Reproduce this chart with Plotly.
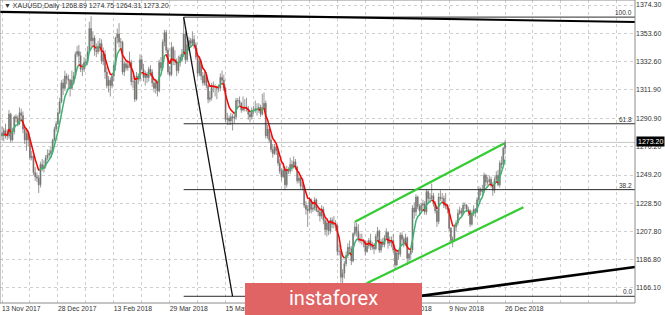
import plotly.graph_objects as go

# ---------------- data (XAUUSD daily, 13 Nov 2017 .. 26 Dec 2018) ----------------
opens = [
    1280,1278,1282,1278,1278,1294,1275,1281,1292,1291,
    1287,1295,1293,1283,1275,1280,1275,1262,1263,1251,
    1248,1247,1242,1257,1254,1256,1262,1264,1265,1267,
    1275,1283,1287,1295,1303,1317,1313,1322,1320,1319,
    1313,1319,1322,1338,1340,1337,1327,1327,1332,1332,
    1340,1357,1348,1350,1341,1340,1344,1346,1333,1338,
    1325,1315,1319,1315,1322,1330,1350,1353,1347,1347,
    1325,1331,1328,1330,1332,1318,1318,1305,1322,1320,
    1334,1327,1321,1323,1321,1327,1325,1317,1313,1317,
    1311,1332,1328,1347,1354,1341,1325,1323,1343,1333,
    1333,1326,1332,1336,1338,1353,1334,1345,1348,1346,
    1349,1345,1336,1324,1333,1322,1317,1323,1315,1305,
    1306,1315,1314,1314,1313,1313,1321,1319,1313,1290,
    1291,1289,1292,1291,1292,1304,1304,1302,1297,1298,
    1299,1298,1294,1292,1297,1297,1298,1298,1299,1294,
    1299,1302,1278,1283,1275,1268,1265,1270,1267,1258,
    1252,1248,1253,1242,1253,1252,1257,1255,1259,1255,
    1245,1247,1241,1241,1227,1224,1223,1231,1224,1225,
    1231,1223,1222,1219,1224,1216,1209,1214,1208,1216,
    1213,1213,1212,1193,1193,1174,1177,1184,1190,1196,
    1195,1186,1206,1211,1208,1202,1201,1201,1200,1193,
    1197,1201,1197,1196,1195,1204,1208,1194,1200,1198,
    1203,1207,1199,1200,1201,1194,1183,1192,1191,1205,
    1202,1199,1203,1188,1191,1194,1225,1222,1233,1226,
    1223,1227,1228,1222,1237,1232,1232,1234,1228,1223,
    1215,1233,1232,1232,1227,1226,1224,1210,1201,1202,
    1211,1214,1221,1223,1221,1227,1227,1224,1223,1213,
    1221,1224,1222,1231,1239,1237,1238,1249,1244,1244,
    1246,1242,1238,1246,1249,1242,1258,1257,1268.89,
]
highs = [
    1285,1284,1287,1283,1297,1295,1284,1293,1294,1293,
    1299,1298,1296,1286,1284,1282,1277,1267,1264,1255,
    1251,1249,1259,1261,1260,1264,1268,1268,1270,1276,
    1285,1289,1296,1306,1319,1320,1326,1324,1323,1320,
    1326,1325,1340,1344,1345,1340,1331,1336,1335,1344,
    1362,1366,1355,1352,1346,1348,1350,1349,1343,1341,
    1329,1322,1321,1324,1332,1351,1357,1361,1350,1348,
    1333,1334,1334,1340,1334,1322,1319,1325,1324,1338,
    1337,1331,1326,1325,1329,1330,1327,1319,1320,1318,
    1334,1336,1349,1356,1356,1343,1329,1347,1344,1341,
    1335,1337,1338,1342,1365,1355,1348,1351,1350,1355,
    1352,1347,1338,1336,1334,1325,1326,1325,1316,1311,
    1317,1318,1316,1315,1316,1324,1326,1323,1314,1295,
    1293,1295,1294,1295,1306,1306,1307,1303,1307,1305,
    1306,1300,1296,1299,1300,1304,1302,1302,1301,1309,
    1310,1304,1286,1284,1279,1272,1272,1272,1269,1261,
    1254,1256,1255,1256,1255,1262,1260,1263,1261,1256,
    1250,1249,1244,1242,1230,1227,1233,1232,1229,1233,
    1232,1226,1224,1227,1226,1218,1216,1215,1218,1218,
    1219,1216,1213,1198,1195,1180,1186,1193,1199,1201,
    1197,1207,1215,1214,1213,1206,1206,1202,1201,1201,
    1203,1206,1200,1199,1206,1211,1209,1202,1203,1205,
    1210,1208,1204,1204,1206,1195,1194,1193,1207,1207,
    1204,1206,1204,1192,1196,1227,1229,1235,1234,1228,
    1229,1231,1230,1239,1238,1236,1243,1236,1230,1225,
    1236,1238,1236,1234,1236,1228,1225,1211,1204,1213,
    1216,1224,1226,1225,1229,1229,1228,1226,1224,1223,
    1227,1225,1233,1241,1240,1242,1251,1250,1248,1249,
    1248,1244,1248,1252,1253,1260,1263,1270,1274.75,
]
lows = [
    1275,1274,1276,1275,1276,1273,1274,1279,1288,1285,
    1286,1290,1280,1272,1267,1270,1260,1260,1249,1245,
    1244,1236,1240,1252,1251,1254,1260,1261,1262,1266,
    1274,1281,1286,1294,1302,1308,1311,1316,1313,1307,
    1312,1316,1320,1336,1331,1325,1322,1325,1329,1330,
    1339,1342,1345,1337,1336,1338,1340,1331,1330,1320,
    1313,1310,1307,1313,1318,1326,1346,1343,1342,1323,
    1322,1326,1326,1328,1315,1313,1303,1304,1316,1318,
    1326,1318,1315,1317,1318,1322,1314,1310,1309,1307,
    1310,1326,1326,1344,1339,1323,1321,1322,1330,1330,
    1322,1324,1329,1333,1336,1331,1333,1342,1343,1344,
    1342,1334,1321,1322,1319,1315,1315,1313,1302,1303,
    1304,1310,1307,1305,1310,1311,1317,1311,1288,1286,
    1286,1286,1282,1287,1290,1299,1300,1295,1296,1296,
    1296,1290,1288,1290,1294,1295,1293,1295,1292,1293,
    1298,1276,1276,1273,1266,1262,1264,1264,1256,1250,
    1245,1247,1238,1240,1250,1250,1252,1254,1253,1243,
    1243,1239,1238,1225,1220,1211,1221,1221,1222,1223,
    1222,1219,1215,1217,1213,1205,1204,1205,1206,1210,
    1210,1208,1190,1190,1170,1160,1173,1182,1188,1192,
    1183,1185,1204,1204,1200,1199,1198,1196,1190,1192,
    1195,1194,1194,1191,1194,1202,1192,1192,1196,1196,
    1202,1195,1197,1196,1192,1180,1182,1187,1189,1198,
    1196,1197,1183,1185,1187,1192,1217,1219,1224,1220,
    1221,1223,1220,1220,1229,1229,1230,1226,1221,1211,
    1213,1230,1228,1225,1224,1221,1207,1199,1196,1200,
    1208,1212,1220,1218,1220,1224,1222,1219,1211,1212,
    1219,1218,1221,1229,1234,1234,1236,1241,1242,1242,
    1240,1234,1236,1244,1241,1240,1254,1256,1264.31,
]
closes = [
    1278,1282,1278,1278,1294,1275,1281,1292,1291,1287,
    1295,1293,1283,1275,1280,1275,1262,1263,1251,1248,
    1247,1242,1257,1254,1256,1262,1264,1265,1267,1275,
    1283,1287,1295,1303,1317,1313,1322,1320,1319,1313,
    1319,1322,1338,1340,1337,1327,1327,1332,1332,1340,
    1357,1348,1350,1341,1340,1344,1346,1333,1338,1325,
    1315,1319,1315,1322,1330,1350,1353,1347,1347,1325,
    1331,1328,1330,1332,1318,1318,1305,1322,1320,1334,
    1327,1321,1323,1321,1327,1325,1317,1313,1317,1311,
    1332,1328,1347,1354,1341,1325,1323,1343,1333,1333,
    1326,1332,1336,1338,1353,1334,1345,1348,1346,1349,
    1345,1336,1324,1333,1322,1317,1323,1315,1305,1306,
    1315,1314,1314,1313,1313,1321,1319,1313,1290,1291,
    1289,1292,1291,1292,1304,1304,1302,1297,1298,1299,
    1298,1294,1292,1297,1297,1298,1298,1299,1294,1299,
    1302,1278,1283,1275,1268,1265,1270,1267,1258,1252,
    1248,1253,1242,1253,1252,1257,1255,1259,1255,1245,
    1247,1241,1241,1227,1224,1223,1231,1224,1225,1231,
    1223,1222,1219,1224,1216,1209,1214,1208,1216,1213,
    1213,1212,1193,1193,1174,1177,1184,1190,1196,1195,
    1186,1206,1211,1208,1202,1201,1201,1200,1193,1197,
    1201,1197,1196,1195,1204,1208,1194,1200,1198,1203,
    1207,1199,1200,1201,1194,1183,1192,1191,1205,1202,
    1199,1203,1188,1191,1194,1225,1222,1233,1226,1223,
    1227,1228,1222,1237,1232,1232,1234,1228,1223,1215,
    1233,1232,1232,1227,1226,1224,1210,1201,1202,1211,
    1214,1221,1223,1221,1227,1227,1224,1223,1213,1221,
    1224,1222,1231,1239,1237,1238,1249,1244,1244,1246,
    1242,1238,1246,1249,1242,1258,1257,1268.89,1273.2,
]

# tick labels every 32 bars; the two labels hidden behind the watermark are left blank
date_labels = ["13 Nov 2017", "28 Dec 2017", "13 Feb 2018", "29 Mar 2018", "15 May 2018",
               "", "", "26 Sep 2018", "9 Nov 2018", "26 Dec 2018"]
price_ticks = [1374.30, 1353.60, 1332.60, 1311.90, 1290.90, 1270.20,
               1249.20, 1228.50, 1207.80, 1186.80, 1166.10]

fib_high = 1365.4
fib_low = 1160.0
fib_levels = [100.0, 61.8, 38.2, 0.0]
fib_start_bar = 104
fib_diag_end_bar = 132

top_trend = [(-1.15, 1369.2), (362.4, 1361.8)]
bottom_trend = [(233.6, 1159.2), (362.4, 1181.6)]
channel_upper = [(202.1, 1214.9), (287.4, 1272.4)]
channel_lower = [(208.8, 1169.6), (298.5, 1225.5)]

title_text = "XAUUSD,Daily 1268.89 1274.75 1264.31 1273.20"
last_price = 1273.20

# ---------------- figure ----------------
n = len(closes)
xs = list(range(n))
X_MIN, X_MAX = -1.15, 362.4
Y_MIN, Y_MAX = 1155.06, 1377.98
FONT = "Liberation Sans, Arial, sans-serif"

fig = go.Figure()
fig.add_trace(go.Candlestick(
    x=xs, open=opens, high=highs, low=lows, close=closes,
    increasing=dict(line=dict(color="#7b827d", width=0.8), fillcolor="#2a4f33"),
    decreasing=dict(line=dict(color="#827b7b", width=0.8), fillcolor="#5e2424"),
    hoverinfo="skip", showlegend=False,
))

# colored moving average (green rising, red falling)
alpha = 2.0 / (6 + 1)
ma = []
for c in closes:
    ma.append(c if not ma else ma[-1] + alpha * (c - ma[-1]))
green = [None] * n
red = [None] * n
for i in range(1, n):
    if ma[i] >= ma[i - 1]:
        green[i - 1] = ma[i - 1]; green[i] = ma[i]
    else:
        red[i - 1] = ma[i - 1]; red[i] = ma[i]
fig.add_trace(go.Scatter(x=xs, y=green, mode="lines", line=dict(color="#3cb371", width=1.5),
                         connectgaps=False, hoverinfo="skip", showlegend=False))
fig.add_trace(go.Scatter(x=xs, y=red, mode="lines", line=dict(color="#ff0000", width=1.5),
                         connectgaps=False, hoverinfo="skip", showlegend=False))

shapes = []
# current price line
shapes.append(dict(type="line", xref="paper", yref="y", x0=0, x1=1, y0=last_price, y1=last_price,
                   line=dict(color="#c4c4c4", width=1), layer="below"))
# fibonacci
for lv in fib_levels:
    p = fib_low + (fib_high - fib_low) * lv / 100.0
    shapes.append(dict(type="line", xref="x", yref="y", x0=fib_start_bar, x1=X_MAX, y0=p, y1=p,
                       line=dict(color="#2a2a2a", width=1)))
shapes.append(dict(type="line", xref="x", yref="y", x0=fib_start_bar, y0=fib_high,
                   x1=fib_diag_end_bar, y1=fib_low, line=dict(color="#111111", width=1.3)))
# trend lines
for (a, b), w, col in [(top_trend, 2.2, "#000000"), (bottom_trend, 2.6, "#000000"),
                       (channel_upper, 2.2, "#33cc33"), (channel_lower, 2.2, "#33cc33")]:
    shapes.append(dict(type="line", xref="x", yref="y", x0=a[0], y0=a[1], x1=b[0], y1=b[1],
                       line=dict(color=col, width=w)))
# frame
shapes.append(dict(type="rect", xref="paper", yref="paper", x0=0, x1=1, y0=0, y1=1,
                   line=dict(color="#8c8c8c", width=1)))
# watermark box
shapes.append(dict(type="rect", xref="paper", yref="paper", x0=245 / 635, x1=422 / 635,
                   y0=-0.06, y1=(303 - 283) / 303, fillcolor="#e06464",
                   line=dict(width=0), layer="above"))

annotations = [
    dict(xref="paper", yref="paper", x=2 / 635, y=(303 - 6.5) / 303, text="▼ " + title_text,
         showarrow=False, xanchor="left", yanchor="middle",
         font=dict(family=FONT, size=7, color="#333333")),
    dict(xref="paper", yref="y", x=1, y=last_price, text="1273.20", showarrow=False,
         xanchor="left", yanchor="middle", xshift=1, yshift=1, bgcolor="#000000", borderpad=1,
         font=dict(family=FONT, size=7, color="#ffffff")),
    dict(xref="paper", yref="paper", x=333 / 635, y=(303 - 298) / 303, text="instaforex",
         showarrow=False, xanchor="center", yanchor="middle",
         font=dict(family="Roboto, sans-serif", size=20, color="#ffffff")),
]
for lv in fib_levels:
    p = fib_low + (fib_high - fib_low) * lv / 100.0
    annotations.append(dict(xref="paper", yref="y", x=634 / 635, y=p, text=f"{lv:.1f}",
                            showarrow=False, xanchor="right", yanchor="bottom", yshift=-1,
                            font=dict(family=FONT, size=6.5, color="#333333")))

tickvals = list(range(0, 353, 16))
ticktext = [date_labels[v // 32] if (v % 32 == 0 and v // 32 < len(date_labels)) else "" for v in tickvals]

fig.update_layout(
    width=665, height=315,
    margin=dict(l=0, r=30, t=0, b=12, pad=0),
    paper_bgcolor="#ffffff", plot_bgcolor="#ffffff",
    showlegend=False, shapes=shapes, annotations=annotations,
    font=dict(family=FONT, size=7, color="#333333"),
    xaxis=dict(range=[X_MIN, X_MAX], tickmode="array", tickvals=tickvals, ticktext=ticktext,
               showgrid=True, gridcolor="#cfcfcf", griddash="dot", gridwidth=1,
               zeroline=False, showline=False, ticks="", rangeslider=dict(visible=False),
               ticklabelposition="outside right", automargin=False,
               tickfont=dict(family=FONT, size=6.8, color="#333333")),
    yaxis=dict(range=[Y_MIN, Y_MAX], side="right", tickmode="array", tickvals=price_ticks,
               ticktext=[f"{v:.2f}" for v in price_ticks],
               showgrid=True, gridcolor="#cfcfcf", griddash="dot", gridwidth=1,
               zeroline=False, showline=False, ticks="", automargin=False,
               tickfont=dict(family=FONT, size=7, color="#333333")),
)

fig.write_html("out.html")
